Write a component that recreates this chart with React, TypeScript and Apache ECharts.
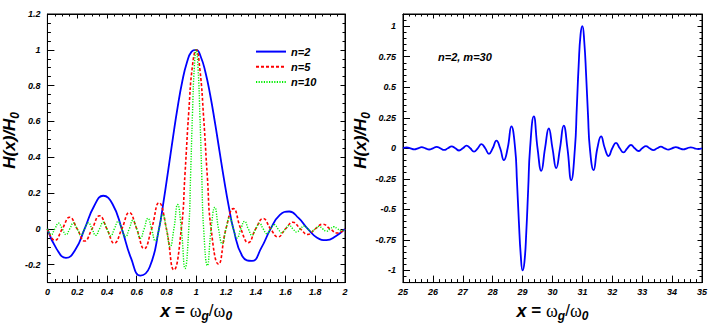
import React, { useEffect, useRef } from "react";
import * as echarts from "echarts";

// ---------- Left panel data (x = omega_g / omega_0) ----------
const n2X = [0, 0.0625, 0.125, 0.1875, 0.25, 0.3125, 0.375, 0.4375, 0.5, 0.5625, 0.625, 0.6875, 0.75, 0.78125, 0.8125, 0.84375, 0.875, 0.90625, 0.9375, 0.96875, 1, 1.03125, 1.0625, 1.09375, 1.125, 1.15625, 1.1875, 1.21875, 1.25, 1.3125, 1.375, 1.4375, 1.5, 1.5625, 1.625, 1.6875, 1.75, 1.8125, 1.875, 1.9375, 2];
const n2Y = [0, -0.113, -0.162, -0.117, 0, 0.125, 0.185, 0.139, 0, -0.165, -0.261, -0.213, 0, 0.156, 0.331, 0.51, 0.679, 0.823, 0.929, 0.99, 1, 0.96, 0.873, 0.749, 0.599, 0.436, 0.274, 0.126, 0, -0.156, -0.179, -0.106, 0, 0.078, 0.097, 0.061, 0, -0.049, -0.063, -0.041, 0];

const n5X = [0, 0.05, 0.1, 0.15, 0.2, 0.25, 0.3, 0.35, 0.4, 0.45, 0.5, 0.55, 0.6, 0.65, 0.7, 0.75, 0.8, 0.85, 0.9, 0.925, 0.95, 0.975, 1, 1.025, 1.05, 1.075, 1.1, 1.15, 1.2, 1.25, 1.3, 1.35, 1.4, 1.45, 1.5, 1.55, 1.6, 1.65, 1.7, 1.75, 1.8, 1.85, 1.9, 1.95, 2];
const n5Y = [0, -0.064, 0, 0.065, 0, -0.068, 0, 0.073, 0, -0.08, 0, 0.091, 0, -0.11, 0, 0.146, 0, -0.229, 0, 0.312, 0.653, 0.912, 1, 0.889, 0.621, 0.289, 0, -0.197, 0, 0.113, 0, -0.077, 0, 0.058, 0, -0.045, 0, 0.037, 0, -0.031, 0, 0.026, 0, -0.023, 0];

const n10X = [0, 0.025, 0.05, 0.075, 0.1, 0.125, 0.15, 0.175, 0.2, 0.225, 0.25, 0.275, 0.3, 0.325, 0.35, 0.375, 0.4, 0.425, 0.45, 0.475, 0.5, 0.525, 0.55, 0.575, 0.6, 0.625, 0.65, 0.675, 0.7, 0.725, 0.75, 0.775, 0.8, 0.825, 0.85, 0.875, 0.9, 0.925, 0.95, 0.9625, 0.975, 0.9875, 1, 1.0125, 1.025, 1.0375, 1.05, 1.075, 1.1, 1.125, 1.15, 1.175, 1.2, 1.225, 1.25, 1.275, 1.3, 1.325, 1.35, 1.375, 1.4, 1.425, 1.45, 1.475, 1.5, 1.525, 1.55, 1.575, 1.6, 1.625, 1.65, 1.675, 1.7, 1.725, 1.75, 1.775, 1.8, 1.825, 1.85, 1.875, 1.9, 1.925, 1.95, 1.975, 2];
const n10Y = [0, -0.032, 0, 0.032, 0, -0.032, 0, 0.033, 0, -0.034, 0, 0.034, 0, -0.036, 0, 0.037, 0, -0.039, 0, 0.041, 0, -0.044, 0, 0.048, 0, -0.052, 0, 0.059, 0, -0.067, 0, 0.08, 0, -0.1, 0, 0.136, 0, -0.221, 0, 0.306, 0.645, 0.906, 1, 0.895, 0.629, 0.295, 0, -0.205, 0, 0.12, 0, -0.084, 0, 0.064, 0, -0.051, 0, 0.042, 0, -0.036, 0, 0.031, 0, -0.027, 0, 0.024, 0, -0.022, 0, 0.019, 0, -0.018, 0, 0.016, 0, -0.015, 0, 0.014, 0, -0.013, 0, 0.012, 0, -0.011, 0];

// ---------- Right panel data (n=2, m=30) ----------
const m30X = [25, 25.125, 25.25, 25.375, 25.5, 25.625, 25.75, 25.875, 26, 26.125, 26.25, 26.375, 26.5, 26.625, 26.75, 26.875, 27, 27.125, 27.25, 27.375, 27.5, 27.625, 27.75, 27.875, 28, 28.125, 28.25, 28.375, 28.5, 28.625, 28.75, 28.8125, 28.875, 28.9375, 29, 29.0625, 29.125, 29.1875, 29.25, 29.375, 29.5, 29.625, 29.75, 29.875, 30, 30.125, 30.25, 30.375, 30.5, 30.625, 30.75, 30.8125, 30.875, 30.9375, 31, 31.0625, 31.125, 31.1875, 31.25, 31.375, 31.5, 31.625, 31.75, 31.875, 32, 32.125, 32.25, 32.375, 32.5, 32.625, 32.75, 32.875, 33, 33.125, 33.25, 33.375, 33.5, 33.625, 33.75, 33.875, 34, 34.125, 34.25, 34.375, 34.5, 34.625, 34.75, 34.875, 35];
const m30Y = [0, 0.007, 0, -0.008, 0, 0.009, 0, -0.01, 0, 0.011, 0, -0.013, 0, 0.015, 0, -0.018, 0, 0.022, 0, -0.027, 0, 0.034, 0, -0.045, 0, 0.063, 0, -0.097, 0, 0.179, 0, -0.274, -0.599, -0.873, -1, -0.929, -0.679, -0.331, 0, 0.261, 0, -0.185, 0, 0.162, 0, -0.162, 0, 0.185, 0, -0.261, 0, 0.331, 0.679, 0.929, 1, 0.873, 0.599, 0.274, 0, -0.179, 0, 0.097, 0, -0.063, 0, 0.045, 0, -0.034, 0, 0.027, 0, -0.022, 0, 0.018, 0, -0.015, 0, 0.013, 0, -0.011, 0, 0.01, 0, -0.009, 0, 0.008, 0, -0.007, 0];

// ---------- Labels / ticks ----------
const seriesNames = ["n=2", "n=5", "n=10"];
const leftYLabels = [-0.2, 0, 0.2, 0.4, 0.6, 0.8, 1, 1.2];
const rightYLabels = [-1, -0.75, -0.5, -0.25, 0, 0.25, 0.5, 0.75, 1];
const rightNote = "n=2, m=30";
const yTitle = "{h|H(x)/H}{s|0}";
const xTitle = "{x|x}{eq| = }{w|ω}{s|g}{sl|/}{w|ω}{s|0}";

const zip = (xs: number[], ys: number[]) => xs.map((x, i) => [x, ys[i]]);

const SANS = "Liberation Sans";
const tickFont = { fontFamily: SANS, fontStyle: "italic", fontWeight: "bold", fontSize: 9, color: "#000" };
const black = { color: "#000", width: 1 };

const xRich = {
  x: { fontFamily: SANS, fontStyle: "italic", fontWeight: "bold", fontSize: 18, color: "#000" },
  eq: { fontFamily: SANS, fontWeight: "bold", fontSize: 17, color: "#000" },
  w: { fontFamily: "Liberation Serif", fontSize: 18, color: "#000" },
  s: { fontFamily: SANS, fontStyle: "italic", fontWeight: "bold", fontSize: 12, color: "#000", padding: [11, 0, 0, 0] },
  sl: { fontFamily: SANS, fontSize: 17, color: "#000" },
};
const yRich = {
  h: { fontFamily: SANS, fontStyle: "italic", fontWeight: "bold", fontSize: 17, color: "#000" },
  s: { fontFamily: SANS, fontStyle: "italic", fontWeight: "bold", fontSize: 12, color: "#000", padding: [11, 0, 0, 0] },
};

function xAxes(grid: number, min: number, max: number, interval: number, split: number) {
  const base = {
    gridIndex: grid, type: "value", min, max, interval,
    splitLine: { show: false },
    axisLine: { show: true, onZero: false, lineStyle: black },
  };
  return [
    {
      ...base, position: "bottom",
      axisTick: { show: true, inside: true, length: 7, lineStyle: black },
      minorTick: { show: true, splitNumber: split, length: 3.5, lineStyle: black },
      axisLabel: { ...tickFont, margin: 5 },
      name: xTitle, nameLocation: "middle", nameGap: 12,
      nameTextStyle: { rich: xRich },
    },
    {
      ...base, position: "top",
      axisTick: { show: true, inside: true, length: 4.5, lineStyle: black },
      minorTick: { show: true, splitNumber: split, length: 2.5, lineStyle: black },
      axisLabel: { show: false },
    },
  ];
}

function yAxes(grid: number, min: number, max: number, labels: number[], gap: number) {
  const base = { gridIndex: grid, type: "value", min, max, splitLine: { show: false } };
  return [
    {
      ...base, position: "left",
      axisLine: { show: true, onZero: false, lineStyle: black },
      axisTick: { show: true, inside: true, length: 7, lineStyle: black, customValues: labels },
      axisLabel: { ...tickFont, margin: 7, customValues: labels },
      name: yTitle, nameLocation: "middle", nameRotate: 90, nameGap: gap,
      nameTextStyle: { rich: yRich, padding: [0, 0, 0, 16] },
    },
    {
      ...base, position: "left", interval: 0.05,
      axisLine: { show: false, onZero: false },
      axisTick: { show: true, inside: true, length: 3.5, lineStyle: black },
      axisLabel: { show: false },
    },
    {
      ...base, position: "right",
      axisLine: { show: true, onZero: false, lineStyle: black },
      axisTick: { show: true, inside: true, length: 4.5, lineStyle: black, customValues: labels },
      axisLabel: { show: false },
    },
    {
      ...base, position: "right", interval: 0.05,
      axisLine: { show: false, onZero: false },
      axisTick: { show: true, inside: true, length: 2.5, lineStyle: black },
      axisLabel: { show: false },
    },
  ];
}

export default function App() {
  const ref = useRef<HTMLDivElement>(null);
  useEffect(() => {
    const chart = echarts.init(ref.current!, null, { renderer: "svg" });
    const option: any = {
      animation: false,
      backgroundColor: "#fff",
      grid: [
        { left: 45, top: 14, width: 300, height: 269, show: true, borderColor: "#000", borderWidth: 1, containLabel: false },
        { left: 403, top: 14, width: 299, height: 269, show: true, borderColor: "#000", borderWidth: 1, containLabel: false },
      ],
      xAxis: [...xAxes(0, 0, 2, 0.2, 4), ...xAxes(1, 25, 35, 1, 5)],
      yAxis: [...yAxes(0, -0.3, 1.2, leftYLabels, 22), ...yAxes(1, -1.1, 1.1, rightYLabels, 22)],
      legend: {
        data: seriesNames,
        orient: "vertical",
        left: 250,
        top: 41,
        itemWidth: 30,
        itemHeight: 14,
        itemGap: 4,
        itemStyle: { color: "transparent", borderColor: "transparent", borderWidth: 0 },
        textStyle: { fontFamily: SANS, fontStyle: "italic", fontWeight: "bold", fontSize: 11, color: "#000" },
      },
      graphic: [
        {
          type: "text", left: 438, top: 51,
          style: { text: rightNote, font: `italic bold 11px "${SANS}"`, fill: "#000" },
        },
      ],
      series: [
        {
          type: "line", name: seriesNames[0], xAxisIndex: 0, yAxisIndex: 0,
          data: zip(n2X, n2Y), symbol: "none", smooth: 0.5,
          lineStyle: { color: "#0000ff", width: 1.8 }, itemStyle: { color: "#0000ff" },
        },
        {
          type: "line", name: seriesNames[1], xAxisIndex: 0, yAxisIndex: 0,
          data: zip(n5X, n5Y), symbol: "none", smooth: 0.5,
          lineStyle: { color: "#ff0000", width: 1.6, type: [3, 2] }, itemStyle: { color: "#ff0000" },
        },
        {
          type: "line", name: seriesNames[2], xAxisIndex: 0, yAxisIndex: 0,
          data: zip(n10X, n10Y), symbol: "none", smooth: 0.5,
          lineStyle: { color: "#00ee00", width: 1.4, type: [1.2, 1.4] }, itemStyle: { color: "#00ee00" },
        },
        {
          type: "line", name: rightNote, xAxisIndex: 2, yAxisIndex: 4,
          data: zip(m30X, m30Y), symbol: "none", smooth: 0.5,
          lineStyle: { color: "#0000ff", width: 1.8 }, itemStyle: { color: "#0000ff" },
        },
      ],
    };
    chart.setOption(option);
    return () => chart.dispose();
  }, []);
  return <div ref={ref} style={{ position: "absolute", left: 0, top: 0, width: 716, height: 327 }} />;
}
